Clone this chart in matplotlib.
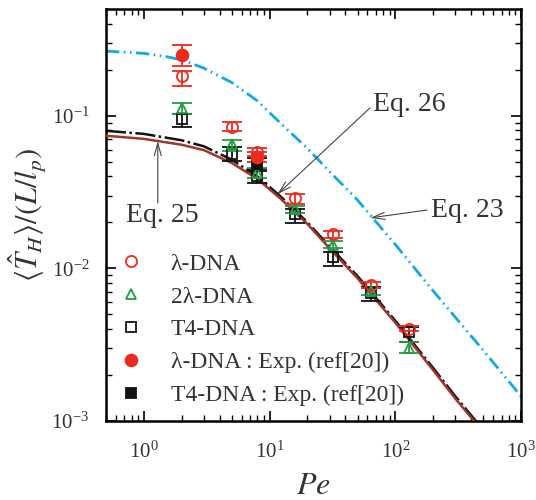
import numpy as np
import matplotlib
matplotlib.use("Agg")
import matplotlib.pyplot as plt
from matplotlib.lines import Line2D
from matplotlib.ticker import LogLocator, NullFormatter, LogFormatterSciNotation

plt.rcParams["font.family"] = ["Liberation Serif", "DejaVu Serif"]
plt.rcParams["mathtext.fontset"] = "stix"

# ---------------------------------------------------------------- data
# Peclet numbers of the simulated chains
pe = [2, 5, 8, 16, 32, 64, 128]

# lambda-DNA (simulation): mean, lower and upper error bounds
lam_mean = [0.181, 0.0846, 0.0582, 0.0290, 0.0168, 0.00782, 0.00403]
lam_lo = [0.157, 0.0788, 0.0546, 0.0262, 0.0158, 0.0074, 0.0039]
lam_hi = [0.195, 0.0913, 0.0613, 0.0306, 0.0175, 0.0082, 0.0042]

# 2 lambda-DNA (simulation)
lam2_mean = [0.113, 0.0651, 0.0423, 0.0243, 0.0143, 0.00706, 0.00303]
lam2_lo = [0.103, 0.0588, 0.0391, 0.0230, 0.0135, 0.0067, 0.00277]
lam2_hi = [0.122, 0.0695, 0.0455, 0.0256, 0.0151, 0.0074, 0.0033]

# T4-DNA (simulation)
t4_mean = [0.095, 0.056, 0.0403, 0.0226, 0.0118, 0.00688, 0.00385]
t4_lo = [0.0846, 0.0506, 0.0365, 0.0199, 0.0103, 0.0061, 0.0033]
t4_hi = [0.1026, 0.0625, 0.0448, 0.0243, 0.0128, 0.0076, 0.0041]

# experiments, ref [20]
exp_lam_pe = [2, 8]
exp_lam_mean = [0.248, 0.0537]
exp_lam_lo = [0.213, 0.0498]
exp_lam_hi = [0.292, 0.0579]

exp_t4_pe = [8]
exp_t4_mean = [0.0481]
exp_t4_lo = [0.0435]
exp_t4_hi = [0.0530]

# theory curves
eq23_pe = [0.5, 1, 1.5, 2, 3, 5, 8, 12, 20, 30, 50, 100, 200, 500, 1000]
eq23_val = [0.265, 0.256, 0.244, 0.232, 0.205, 0.165, 0.125, 0.0905, 0.0610,
            0.0430, 0.0280, 0.0143, 0.0071, 0.00290, 0.00145]

eq25_pe = [0.5, 1, 2, 3, 5, 8, 12, 20, 30, 50, 100, 200, 300, 450]
eq25_val = [0.0739, 0.0705, 0.0645, 0.0595, 0.0490, 0.0385, 0.0290, 0.0195,
            0.0135, 0.0086, 0.0044, 0.00215, 0.00140, 0.00094]

eq26_pe = [0.5, 1, 2, 3, 5, 8, 12, 20, 30, 50, 100, 200, 300, 450]
eq26_val = [0.0796, 0.0760, 0.0690, 0.0630, 0.0515, 0.0400, 0.0300, 0.0200,
            0.0139, 0.0089, 0.00453, 0.00222, 0.00145, 0.00097]

# ---------------------------------------------------------------- style
RED = "#ee2a1f"
GREEN = "#1f9e46"
BLACK = "#111111"
CYAN = "#12a9e8"
BROWN = "#a0352e"
TXT = "#333333"

fig = plt.figure(figsize=(5.36, 5.0), dpi=100)
ax = fig.add_axes([0.1978, 0.158, 0.7745, 0.824])
ax.set_xscale("log")
ax.set_yscale("log")
ax.set_xlim(0.5, 1000)
ax.set_ylim(1e-3, 0.5)

ax.plot(eq23_pe, eq23_val, color=CYAN, lw=2.0,
        ls=(0, (4.8, 1.6, 0.6, 1.6, 0.6, 1.6)), zorder=2)
ax.plot(eq26_pe, eq26_val, color=BLACK, lw=1.8, ls=(0, (8, 1.4, 1, 1.4)), zorder=2)
ax.plot(eq25_pe, eq25_val, color=BROWN, lw=1.8, zorder=3)


def series(x, m, lo, hi, marker, color, ms, filled):
    m = np.asarray(m)
    yerr = [m - np.asarray(lo), np.asarray(hi) - m]
    ax.errorbar(x, m, yerr=yerr, fmt=marker, color=color,
                mfc=color if filled else "none", mec=color, ms=ms, mew=1.3,
                elinewidth=1.3, capsize=7, capthick=1.3, ls="none", zorder=4)


series(pe, t4_mean, t4_lo, t4_hi, "s", BLACK, 6.5, False)
series(pe, lam2_mean, lam2_lo, lam2_hi, "^", GREEN, 7.5, False)
series(pe, lam_mean, lam_lo, lam_hi, "o", RED, 8, False)
series(exp_t4_pe, exp_t4_mean, exp_t4_lo, exp_t4_hi, "s", BLACK, 6.5, True)
series(exp_lam_pe, exp_lam_mean, exp_lam_lo, exp_lam_hi, "o", RED, 8.5, True)

# axes and ticks
for sp in ax.spines.values():
    sp.set_linewidth(1.8)
for axis in (ax.xaxis, ax.yaxis):
    axis.set_major_locator(LogLocator(base=10, numticks=10))
    axis.set_minor_locator(LogLocator(base=10, subs=np.arange(2, 10), numticks=20))
    axis.set_major_formatter(LogFormatterSciNotation())
    axis.set_minor_formatter(NullFormatter())
ax.tick_params(which="both", direction="in", top=True, right=True,
               labelcolor=TXT, labelsize=15)
ax.tick_params(which="major", length=7, width=1.2)
ax.tick_params(which="minor", length=4, width=1.0)
ax.tick_params(axis="x", pad=15)
ax.tick_params(axis="y", pad=12)

ax.set_xlabel("$Pe$", fontsize=23, color=TXT)
ax.xaxis.set_label_coords(0.5, -0.125)
ax.set_ylabel(r"$\langle\hat{T}_H\rangle/(L/l_p)$", fontsize=22, color=TXT)
ax.yaxis.set_label_coords(-0.14, 0.5)

# annotations
arrow = dict(arrowstyle="->,head_length=0.9,head_width=0.25", color="#444444",
             lw=0.8, shrinkA=0, shrinkB=0)
ax.annotate("", xy=(11.5, 0.0305), xycoords="data",
            xytext=(0.636, 0.760), textcoords="axes fraction", arrowprops=arrow)
ax.annotate("", xy=(63.1, 0.0214), xycoords="data",
            xytext=(0.773, 0.512), textcoords="axes fraction", arrowprops=arrow)
ax.annotate("", xy=(1.29, 0.0682), xycoords="data",
            xytext=(1.29, 0.0268), textcoords="data", arrowprops=arrow)
ax.text(0.643, 0.767, "Eq. 26", transform=ax.transAxes, fontsize=20,
        color=TXT, ha="left", va="center")
ax.text(0.783, 0.512, "Eq. 23", transform=ax.transAxes, fontsize=20,
        color=TXT, ha="left", va="center")
ax.text(0.136, 0.500, "Eq. 25", transform=ax.transAxes, fontsize=20,
        color=TXT, ha="center", va="center")

# legend
handles = [
    Line2D([], [], ls="none", marker="o", mfc="none", mec=RED, ms=8, mew=1.3),
    Line2D([], [], ls="none", marker="^", mfc="none", mec=GREEN, ms=7.5, mew=1.3),
    Line2D([], [], ls="none", marker="s", mfc="none", mec=BLACK, ms=6.5, mew=1.3),
    Line2D([], [], ls="none", marker="o", mfc=RED, mec=RED, ms=8.5, mew=1.3),
    Line2D([], [], ls="none", marker="s", mfc=BLACK, mec=BLACK, ms=6.5, mew=1.3),
]
labels = ["λ-DNA", "2λ-DNA", "T4-DNA", "λ-DNA : Exp. (ref[20])",
          "T4-DNA : Exp. (ref[20])"]
leg = ax.legend(handles, labels, loc="lower left", bbox_to_anchor=(0.028, 0.036),
                frameon=False, fontsize=17, handlelength=1.15, handletextpad=1.1,
                labelspacing=0.48, borderpad=0, borderaxespad=0)
for t in leg.get_texts():
    t.set_color(TXT)

fig.savefig("out.png", dpi=100)
